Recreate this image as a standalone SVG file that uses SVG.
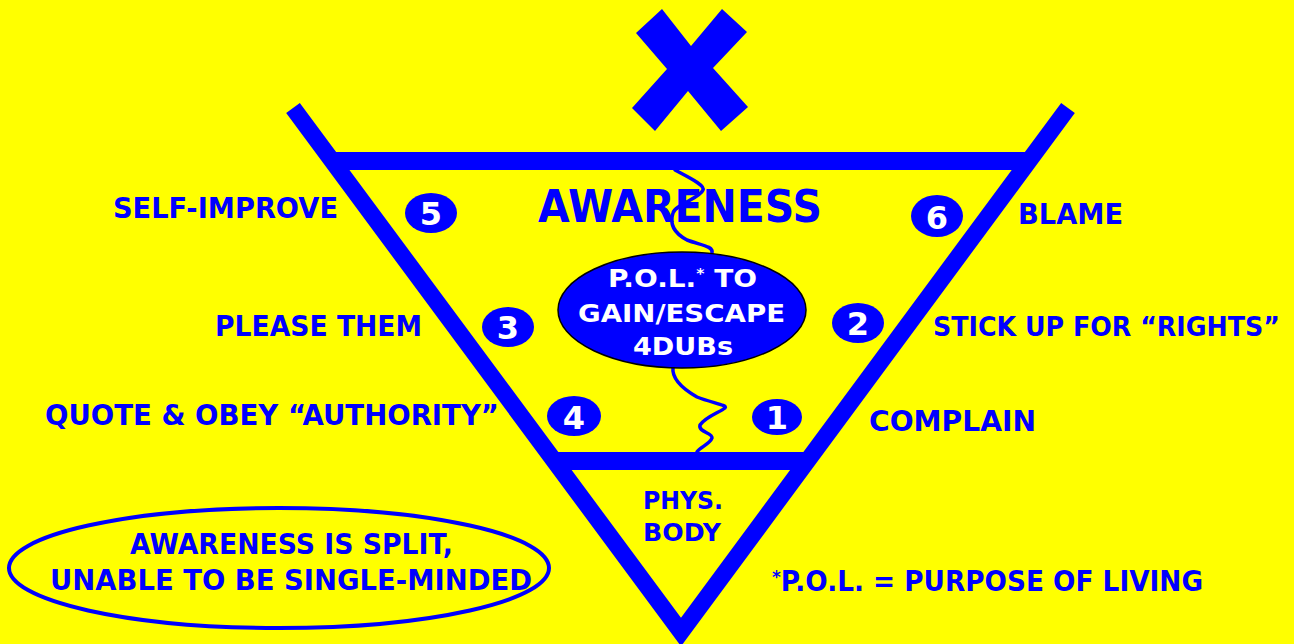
<svg xmlns="http://www.w3.org/2000/svg" width="1294" height="644" viewBox="0 0 1294 644">
<style>
.lbl{font-family:"DejaVu Sans","Liberation Sans",sans-serif;font-weight:bold;fill:#0000FF}
.wt{font-family:"DejaVu Sans","Liberation Sans",sans-serif;font-weight:bold;fill:#FFFFFF}
.num{fill:#0000FF}
.wave{fill:none;stroke:#0000FF;stroke-width:3.5;stroke-linecap:round}
</style>
<rect x="0" y="0" width="1294" height="644" fill="#FFFF00"/>
<g id="x-mark">
<polygon points="662,9 691,46 722,9 747,32 713,68 748,107 721,131 688,91 655,131 632,108 667,69 636,33" fill="#0000FF"/>
</g>
<g id="connectors">
<path class="wave" d="M675,170 C690,178 705,185 703,190 C700,198 675,205 673,213 C670,222 672,232 687,240 C700,245 714,246 712,253"/>
<path class="wave" d="M673,367 C672,375 676,385 697,397 C712,403 728,405 725,408 C720,412 705,417 700,425 C698,432 713,433 712,438 C710,444 700,447 697,452"/>
</g>
<g id="triangle">
<rect x="335" y="152" width="692" height="18" fill="#0000FF"/>
<rect x="552" y="452" width="256" height="18" fill="#0000FF"/>
<polyline points="293,108 681,632 1068,108" fill="none" stroke="#0000FF" stroke-width="17" stroke-linejoin="miter" stroke-miterlimit="10"/>
</g>
<g id="awareness">
<text class="lbl" x="538" y="222" font-size="44" textLength="284" lengthAdjust="spacingAndGlyphs">AWARENESS</text>
</g>
<g id="pol-node">
<ellipse cx="682" cy="310" rx="124" ry="58" fill="#0000FF" stroke="#000000" stroke-width="1.5"/>
<text class="wt" x="608" y="287" font-size="25" textLength="149" lengthAdjust="spacingAndGlyphs">P.O.L.<tspan font-size="14" dy="-9">*</tspan><tspan dy="9"> TO</tspan></text>
<text class="wt" x="578" y="322" font-size="25" textLength="207" lengthAdjust="spacingAndGlyphs">GAIN/ESCAPE</text>
<text class="wt" x="633" y="355" font-size="25" textLength="100" lengthAdjust="spacingAndGlyphs">4DUBs</text>
</g>
<g id="n5"><ellipse class="num" cx="431" cy="213" rx="26" ry="20"/><text class="wt" x="431" y="225" font-size="32" text-anchor="middle">5</text></g>
<g id="n6"><ellipse class="num" cx="937" cy="216" rx="26" ry="21"/><text class="wt" x="937" y="229" font-size="32" text-anchor="middle">6</text></g>
<g id="n3"><ellipse class="num" cx="508" cy="327" rx="26" ry="20"/><text class="wt" x="508" y="339" font-size="32" text-anchor="middle">3</text></g>
<g id="n2"><ellipse class="num" cx="858" cy="323" rx="26" ry="20"/><text class="wt" x="858" y="335" font-size="32" text-anchor="middle">2</text></g>
<g id="n4"><ellipse class="num" cx="574" cy="416" rx="27" ry="20"/><text class="wt" x="574" y="429" font-size="32" text-anchor="middle">4</text></g>
<g id="n1"><ellipse class="num" cx="777" cy="417" rx="25" ry="18"/><text class="wt" x="777" y="429" font-size="32" text-anchor="middle">1</text></g>
<g id="labels">
<text class="lbl" x="113" y="218" font-size="28" textLength="225" lengthAdjust="spacingAndGlyphs">SELF-IMPROVE</text>
<text class="lbl" x="1018" y="224" font-size="28" textLength="105" lengthAdjust="spacingAndGlyphs">BLAME</text>
<text class="lbl" x="215" y="336" font-size="28" textLength="207" lengthAdjust="spacingAndGlyphs">PLEASE THEM</text>
<text class="lbl" x="933" y="336" font-size="26" textLength="347" lengthAdjust="spacingAndGlyphs">STICK UP FOR “RIGHTS”</text>
<text class="lbl" x="45" y="425" font-size="28" textLength="454" lengthAdjust="spacingAndGlyphs">QUOTE &amp; OBEY “AUTHORITY”</text>
<text class="lbl" x="869" y="431" font-size="28" textLength="167" lengthAdjust="spacingAndGlyphs">COMPLAIN</text>
</g>
<g id="phys-body">
<text class="lbl" x="643" y="509" font-size="24" textLength="80" lengthAdjust="spacingAndGlyphs">PHYS.</text>
<text class="lbl" x="643" y="541" font-size="25" textLength="78" lengthAdjust="spacingAndGlyphs">BODY</text>
</g>
<g id="split-note">
<ellipse cx="279" cy="568" rx="270" ry="60" fill="none" stroke="#0000FF" stroke-width="4"/>
<text class="lbl" x="130" y="554" font-size="28" textLength="323" lengthAdjust="spacingAndGlyphs">AWARENESS IS SPLIT,</text>
<text class="lbl" x="50" y="590" font-size="28" textLength="482" lengthAdjust="spacingAndGlyphs">UNABLE TO BE SINGLE-MINDED</text>
</g>
<g id="footnote">
<text class="lbl" x="772" y="591" font-size="28" textLength="431" lengthAdjust="spacingAndGlyphs"><tspan font-size="18" dy="-8">*</tspan><tspan dy="8">P.O.L. = PURPOSE OF LIVING</tspan></text>
</g>
</svg>
